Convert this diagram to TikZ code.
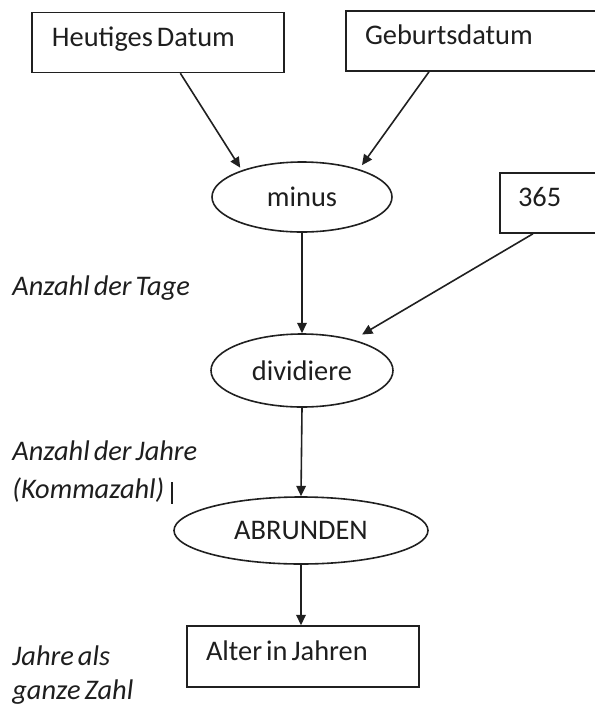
\documentclass[tikz,border=0pt]{standalone}
\usepackage{fontspec}
\setmainfont{Carlito}
\usepackage{xcolor}
\usetikzlibrary{arrows.meta,shapes.geometric}
\definecolor{Ink}{HTML}{1E1E1E}
\definecolor{Line}{HTML}{202020}
\newcommand{\flowfont}{\fontsize{14.2}{17}\selectfont}
\newcommand{\tightsp}{\spaceskip=2pt plus 0.7pt\relax}

\begin{document}
\begin{tikzpicture}[x=0.5pt,y=-0.5pt,>={Triangle[length=5.2pt,width=4.8pt]},
  every node/.style={font=\flowfont,text=Ink,execute at begin node=\tightsp},
  databox/.style={rectangle,draw=Line,line width=0.8pt,minimum height=30pt,
    align=left,inner ysep=0pt,text height=9.5pt,text depth=6pt},
  oval/.style={ellipse,draw=Line,line width=0.8pt,inner sep=0pt},
  note/.style={anchor=west,inner sep=0pt,font=\flowfont\itshape},
  flow/.style={->,line width=0.8pt,draw=Line}]
  \useasboundingbox (0,0) rectangle (595,708);
  \clip (0,0) rectangle (595,708);
  % inputs
  \node[databox,inner xsep=10pt,text width=106pt] (heute) at (158,42.5) {Heutiges Datum};
  \node[databox,inner xsep=9.5pt,text width=108pt] (geburt) at (473,41) {Geburtsdatum};
  \node[databox,inner xsep=9pt,text width=32pt] (tage) at (550,203) {365};
  % steps
  \node[oval,minimum width=90pt,minimum height=35pt] (minus) at (302,197) {minus\hspace{6pt}};
  \node[oval,minimum width=91pt,minimum height=36.5pt] (teile) at (302,370.5) {dividiere\hspace{3pt}};
  \node[oval,minimum width=127pt,minimum height=33.5pt] (runden) at (301,530.5) {ABRUNDEN\hspace{6pt}};
  \node[databox,inner xsep=9.5pt,text width=97pt,minimum height=30.5pt] (alter) at (303,656.5) {Alter in Jahren};
  % side notes
  \node[note] (ntage) at (12,288) {Anzahl der Tage};
  \node[note] (njahre) at (12,451) {Anzahl der Jahre};
  \node[note] (nkomma) at (12,490) {(Kommazahl)};
  \node[note] (nals) at (12,656) {Jahre als};
  \node[note] (nganz) at (12,692) {ganze Zahl};
  \draw[line width=1.4pt,Ink] (172,482) -- (172,504);
  % arrows
  \draw[flow,shorten >=1.5pt] (heute.-54) -- (minus.156);
  \draw[flow,shorten >=2.5pt] (geburt.-145) -- (minus.26);
  \draw[flow] (minus.south) -- (teile.north);
  \draw[flow,shorten >=5pt] (tage.-119.5) -- (teile.31);
  \draw[flow] (teile.south) -- (runden.north);
  \draw[flow] (runden.south) -- (runden.south |- alter.north);
\end{tikzpicture}
\end{document}
